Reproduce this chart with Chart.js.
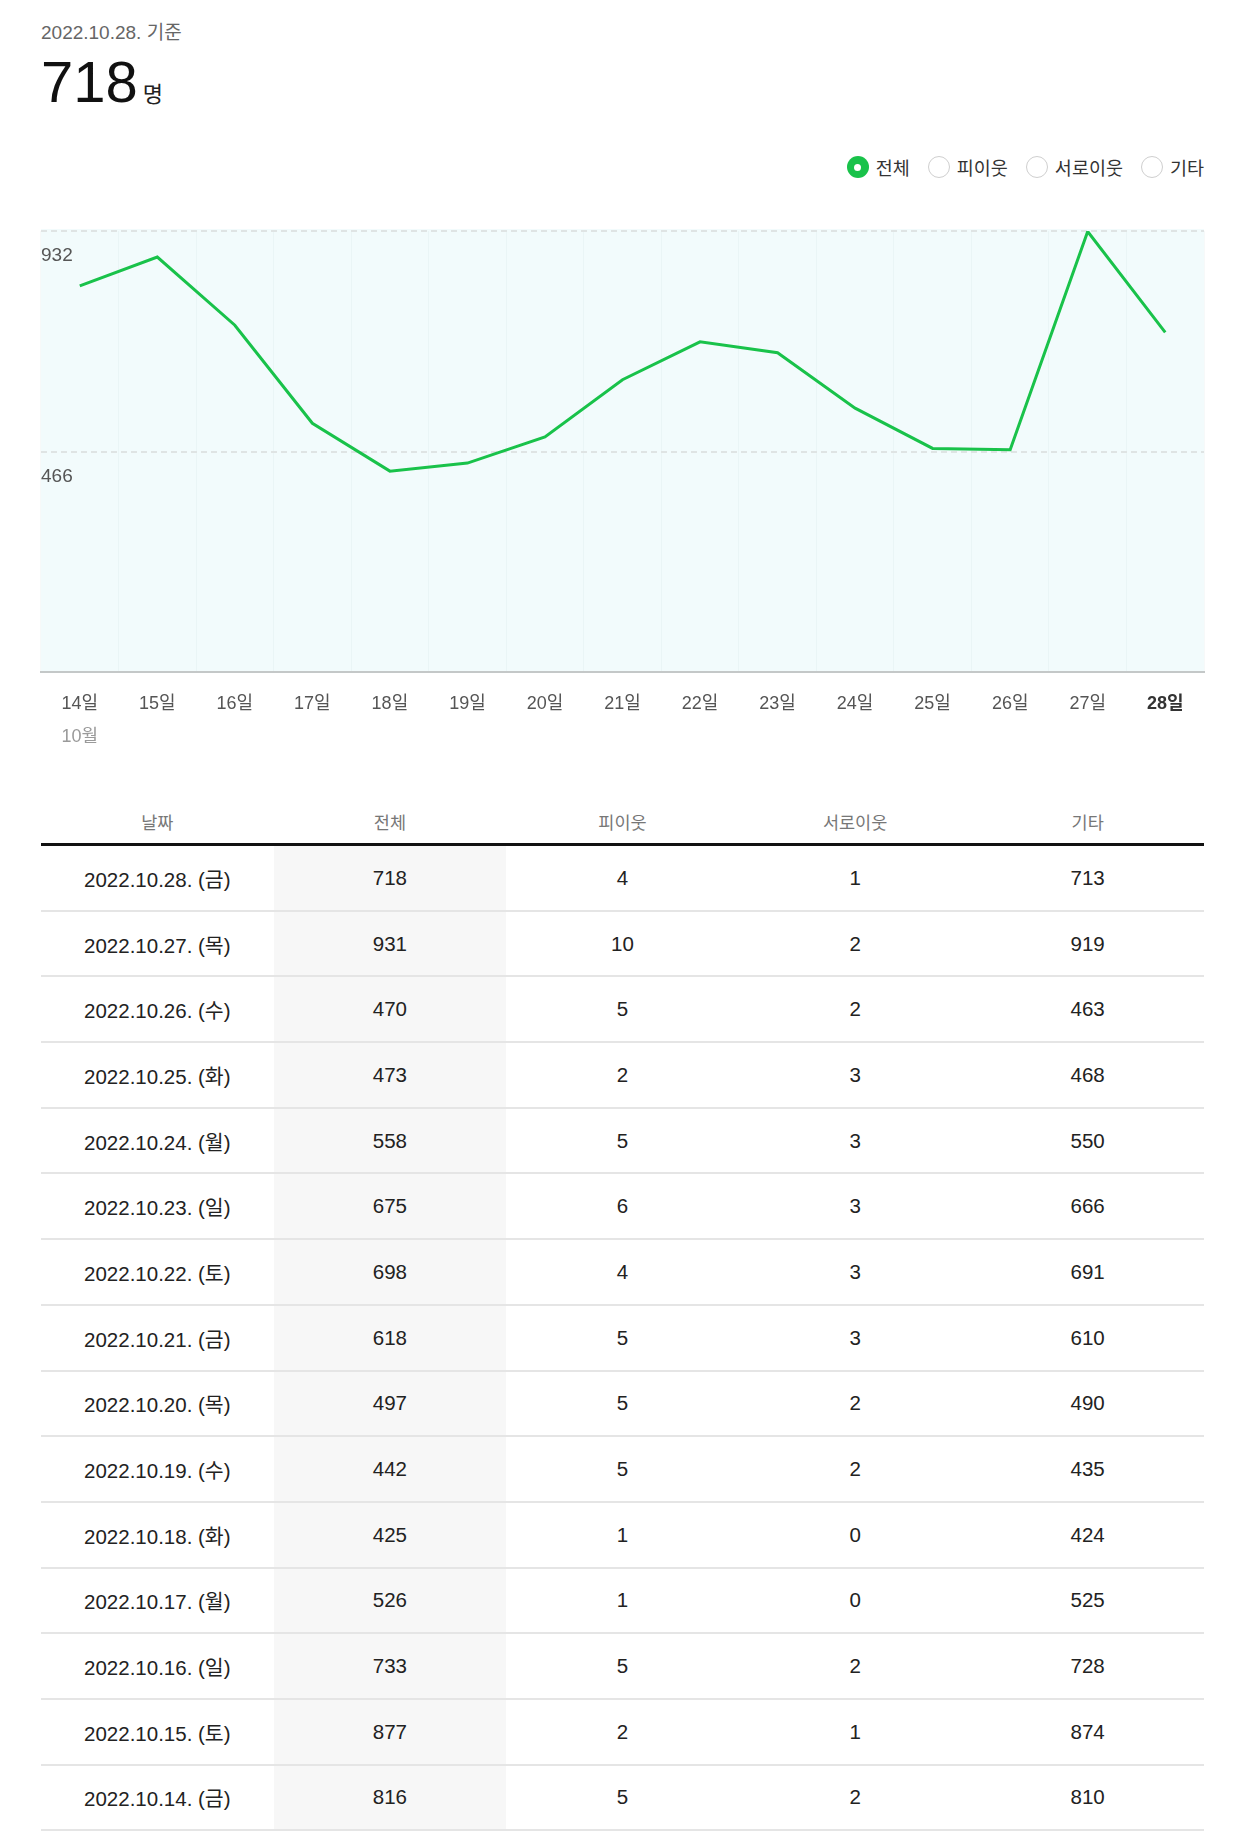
<!DOCTYPE html>
<html lang="ko">
<head>
  <meta charset="UTF-8">
  <title>방문자 수</title>
  <script src="https://cdn.jsdelivr.net/npm/chart.js"></script>
  <style>
    body {
      margin: 0;
      width: 1242px;
      height: 1842px;
      position: relative;
      background: #fff;
      font-family: "Liberation Sans", Arial, "Noto Sans CJK KR", sans-serif;
      overflow: hidden;
    }
    #baseDate {
      position: absolute; left: 41px; top: 22px;
      font-size: 19px; line-height: 22px; color: #666;
    }
    #totalNow {
      position: absolute; left: 41px; top: 53px;
      font-size: 58px; line-height: 58px; color: #111;
    }
    #totalNow span { font-size: 22px; margin-left: 5px; color: #222; }
    #legend {
      position: absolute; right: 38px; top: 155px;
      display: flex; align-items: center; height: 24px;
      font-size: 18.5px; color: #333;
    }
    .item { display: flex; align-items: center; margin-left: 18px; }
    .radio {
      width: 22px; height: 22px; border-radius: 50%;
      box-sizing: border-box; border: 1.5px solid #cfcfcf; background: #fff;
      margin-right: 7px; position: relative;
    }
    .radio.on { border: none; background: #19c24a; }
    .radio.on::after {
      content: ""; position: absolute; left: 7.5px; top: 7.5px;
      width: 7px; height: 7px; border-radius: 50%; background: #fff;
    }
    #chartBox { position: absolute; left: 0; top: 200px; width: 1242px; height: 560px; }
    #table { position: absolute; left: 41px; top: 799px; width: 1163px; }
    .row { display: flex; box-sizing: border-box; }
    .head { height: 47px; border-bottom: 3px solid #111; color: #777; font-size: 17.5px; }
    .body { height: 65.7px; border-bottom: 2px solid #e5e5e5; color: #222; font-size: 20.5px; }
    .cell { flex: 1; display: flex; align-items: center; justify-content: center; }
    .body .cell.shade { background: #f7f7f7; }
  </style>
</head>
<body>
  <div id="baseDate">2022.10.28. 기준</div>
  <div id="totalNow"></div>
  <div id="legend"></div>
  <div id="chartBox"><canvas id="visitChart" width="1242" height="560"></canvas></div>
  <div id="table"></div>

  <script>
    // visitor counts, 14일 -> 28일
    const dates = ['2022.10.14.', '2022.10.15.', '2022.10.16.', '2022.10.17.', '2022.10.18.',
      '2022.10.19.', '2022.10.20.', '2022.10.21.', '2022.10.22.', '2022.10.23.',
      '2022.10.24.', '2022.10.25.', '2022.10.26.', '2022.10.27.', '2022.10.28.'];
    const weekdays = ['금', '토', '일', '월', '화', '수', '목', '금', '토', '일', '월', '화', '수', '목', '금'];
    const dayLabels = ['14일', '15일', '16일', '17일', '18일', '19일', '20일', '21일',
      '22일', '23일', '24일', '25일', '26일', '27일', '28일'];
    const monthLabels = ['10월', '', '', '', '', '', '', '', '', '', '', '', '', '', ''];
    const totalVisitors = [816, 877, 733, 526, 425, 442, 497, 618, 698, 675, 558, 473, 470, 931, 718];
    const neighborVisitors = [5, 2, 5, 1, 1, 5, 5, 5, 4, 6, 5, 2, 5, 10, 4];
    const mutualVisitors = [2, 1, 2, 0, 0, 2, 2, 3, 3, 3, 3, 3, 2, 2, 1];
    const otherVisitors = [810, 874, 728, 525, 424, 435, 490, 610, 691, 666, 550, 468, 463, 919, 713];
    const yTicks = [466, 932];
    const seriesNames = ['전체', '피이웃', '서로이웃', '기타'];
    const tableHeads = ['날짜', '전체', '피이웃', '서로이웃', '기타'];

    const FONT = '"Liberation Sans", Arial, "Noto Sans CJK KR", sans-serif';
    const GREEN = '#19c24a';
    const last = totalVisitors.length - 1;

    // header number
    document.getElementById('totalNow').innerHTML = totalVisitors[last] + '<span>명</span>';

    // radio style legend
    const legend = document.getElementById('legend');
    seriesNames.forEach((name, i) => {
      const item = document.createElement('div');
      item.className = 'item';
      item.innerHTML = `<div class="radio${i === 0 ? ' on' : ''}"></div><div>${name}</div>`;
      legend.appendChild(item);
    });

    // light cyan plot background
    const plotBg = {
      id: 'plotBg',
      beforeDraw(chart) {
        const { ctx, chartArea: a } = chart;
        ctx.save();
        ctx.fillStyle = '#f2fbfc';
        ctx.fillRect(a.left, a.top - 2, a.right - a.left, a.bottom - a.top + 2);
        ctx.restore();
      }
    };

    // grey month name under the day ticks
    const monthRow = {
      id: 'monthRow',
      afterDraw(chart) {
        const { ctx, scales: { x } } = chart;
        ctx.save();
        ctx.font = '18px ' + FONT;
        ctx.fillStyle = '#9a9a9a';
        ctx.textAlign = 'center';
        ctx.textBaseline = 'middle';
        monthLabels.forEach((m, i) => {
          if (m) ctx.fillText(m, x.getPixelForTick(i), x.bottom + 1);
        });
        ctx.restore();
      }
    };

    new Chart(document.getElementById('visitChart'), {
      type: 'line',
      data: {
        labels: dayLabels,
        datasets: [{
          label: seriesNames[0],
          data: totalVisitors,
          borderColor: GREEN,
          borderWidth: 3,
          pointRadius: 0,
          tension: 0,
          fill: false
        }]
      },
      options: {
        responsive: false,
        animation: false,
        layout: { padding: { left: 41, right: 38, top: 31, bottom: 24 } },
        plugins: { legend: { display: false }, tooltip: { enabled: false } },
        scales: {
          x: {
            offset: true,
            grid: { offset: true, drawTicks: false, color: 'rgba(120,160,160,0.06)', lineWidth: 1 },
            border: { display: true, color: '#c4c8c8', width: 2 },
            ticks: {
              autoSkip: false, maxRotation: 0, padding: 21,
              color: (c) => c.index === last ? '#333' : '#555',
              font: (c) => ({ family: FONT, size: 18, weight: c.index === last ? 'bold' : 'normal' })
            }
          },
          y: {
            min: 0,
            max: 932,
            afterBuildTicks: (s) => { s.ticks = yTicks.map(v => ({ value: v })); },
            grid: { drawTicks: false, color: '#dfe4e4', lineWidth: 2 },
            border: { display: false, dash: [6, 4] },
            ticks: { mirror: true, padding: 0, labelOffset: 25, color: '#555', font: { family: FONT, size: 19 } }
          }
        }
      },
      plugins: [plotBg, monthRow]
    });

    // table, newest date first
    const table = document.getElementById('table');
    const head = document.createElement('div');
    head.className = 'row head';
    head.innerHTML = tableHeads.map(h => `<div class="cell">${h}</div>`).join('');
    table.appendChild(head);
    for (let i = last; i >= 0; i--) {
      const row = document.createElement('div');
      row.className = 'row body';
      row.innerHTML =
        `<div class="cell">${dates[i]} (${weekdays[i]})</div>` +
        `<div class="cell shade">${totalVisitors[i]}</div>` +
        `<div class="cell">${neighborVisitors[i]}</div>` +
        `<div class="cell">${mutualVisitors[i]}</div>` +
        `<div class="cell">${otherVisitors[i]}</div>`;
      table.appendChild(row);
    }
  </script>
</body>
</html>
